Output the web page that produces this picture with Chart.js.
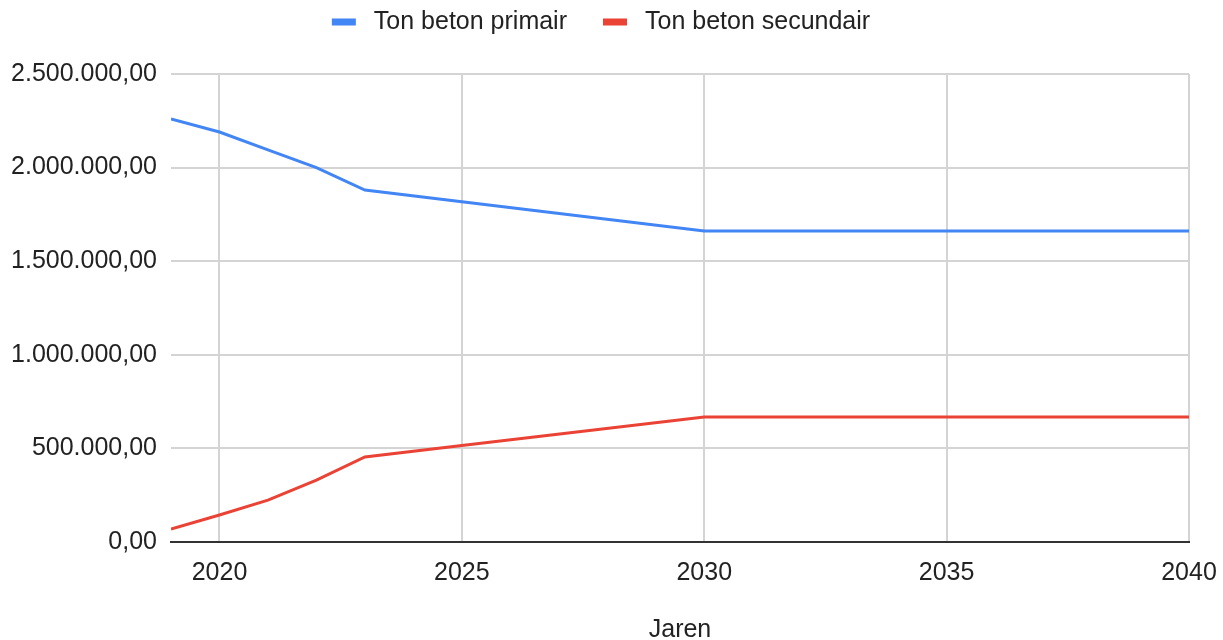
<!DOCTYPE html>
<html>
<head>
<meta charset="utf-8">
<script src="https://cdn.jsdelivr.net/npm/chart.js@4"></script>
<style>
  html, body { margin: 0; padding: 0; background: #ffffff; }
  #wrap { width: 1223px; height: 640px; }
</style>
</head>
<body>
<div id="wrap"><canvas id="chart" width="1223" height="640"></canvas></div>
<script>
// Jaarlijkse hoeveelheden beton (ton)
const jaren = [2019, 2020, 2021, 2022, 2023, 2025, 2030, 2035, 2040];
const primair = [2260000, 2190000, 2095000, 2000000, 1880000, 1817000, 1661000, 1661000, 1661000];
const secundair = [69000, 144000, 224000, 331000, 454000, 515000, 668000, 668000, 668000];

const xTicks = [2020, 2025, 2030, 2035, 2040];
const yTicks = [0, 500000, 1000000, 1500000, 2000000, 2500000];

const seriesLabels = ['Ton beton primair', 'Ton beton secundair'];
const seriesColors = ['#4285f4', '#ea4335'];

const FONT = "'Liberation Sans', Arial, Helvetica, sans-serif";
const FONT_SIZE = 25;
const TEXT = '#222222';

// Dutch number notation: 2.500.000,00
function formatNL(v) {
  const parts = Math.abs(v).toFixed(2).split('.');
  const int = parts[0].replace(/\B(?=(\d{3})+(?!\d))/g, '.');
  return (v < 0 ? '-' : '') + int + ',' + parts[1];
}

function points(values) {
  return jaren.map((j, i) => ({ x: j, y: values[i] }));
}

// Legend drawn across the top: short thick bar, then the series name
const topLegend = {
  id: 'topLegend',
  afterDraw(chart) {
    const ctx = chart.ctx;
    ctx.save();
    ctx.font = FONT_SIZE + 'px ' + FONT;
    ctx.textBaseline = 'middle';
    const boxW = 24, boxH = 7, gapText = 18, gapItem = 36;
    const widths = seriesLabels.map(t => ctx.measureText(t).width);
    let total = 0;
    widths.forEach((w, i) => { total += boxW + gapText + w + (i < widths.length - 1 ? gapItem : 0); });
    let x = 601 - total / 2;
    const cy = 22;
    seriesLabels.forEach((t, i) => {
      ctx.fillStyle = seriesColors[i];
      ctx.fillRect(x, cy - boxH / 2, boxW, boxH);
      x += boxW + gapText;
      ctx.fillStyle = TEXT;
      ctx.textAlign = 'left';
      ctx.fillText(t, x, cy);
      x += widths[i] + gapItem;
    });
    ctx.restore();
  }
};

new Chart(document.getElementById('chart'), {
  type: 'line',
  data: {
    datasets: [
      {
        label: seriesLabels[0],
        data: points(primair),
        borderColor: seriesColors[0],
        backgroundColor: seriesColors[0],
        borderWidth: 3,
        pointRadius: 0,
        tension: 0
      },
      {
        label: seriesLabels[1],
        data: points(secundair),
        borderColor: seriesColors[1],
        backgroundColor: seriesColors[1],
        borderWidth: 3,
        pointRadius: 0,
        tension: 0
      }
    ]
  },
  options: {
    responsive: false,
    animation: false,
    devicePixelRatio: 1,
    layout: { padding: { top: 74, left: 0, right: 34, bottom: 0 } },
    plugins: {
      legend: { display: false },
      tooltip: { enabled: false }
    },
    scales: {
      x: {
        type: 'linear',
        min: 2019,
        max: 2040,
        afterBuildTicks(axis) { axis.ticks = xTicks.map(v => ({ value: v })); },
        afterFit(axis) { axis.paddingLeft = 0; axis.paddingRight = 0; },
        ticks: {
          font: { family: FONT, size: FONT_SIZE },
          color: TEXT,
          padding: 16,
          maxRotation: 0,
          callback: v => String(v)
        },
        grid: { color: '#d4d4d4', lineWidth: 2, drawTicks: false },
        border: { display: true, color: '#333333', width: 2 },
        title: {
          display: true,
          text: 'Jaren',
          font: { family: FONT, size: FONT_SIZE, lineHeight: 0.8 },
          color: TEXT,
          padding: { top: 16, bottom: 0 }
        }
      },
      y: {
        min: 0,
        max: 2500000,
        afterBuildTicks(axis) { axis.ticks = yTicks.map(v => ({ value: v })); },
        afterFit(axis) { axis.width = 171; },
        ticks: {
          font: { family: FONT, size: FONT_SIZE },
          color: TEXT,
          padding: 14,
          callback: v => formatNL(v)
        },
        grid: {
          color: c => (c.tick && c.tick.value === 0 ? '#333333' : '#d4d4d4'),
          lineWidth: 2,
          drawTicks: false
        },
        border: { display: false }
      }
    }
  },
  plugins: [topLegend]
});
</script>
</body>
</html>
